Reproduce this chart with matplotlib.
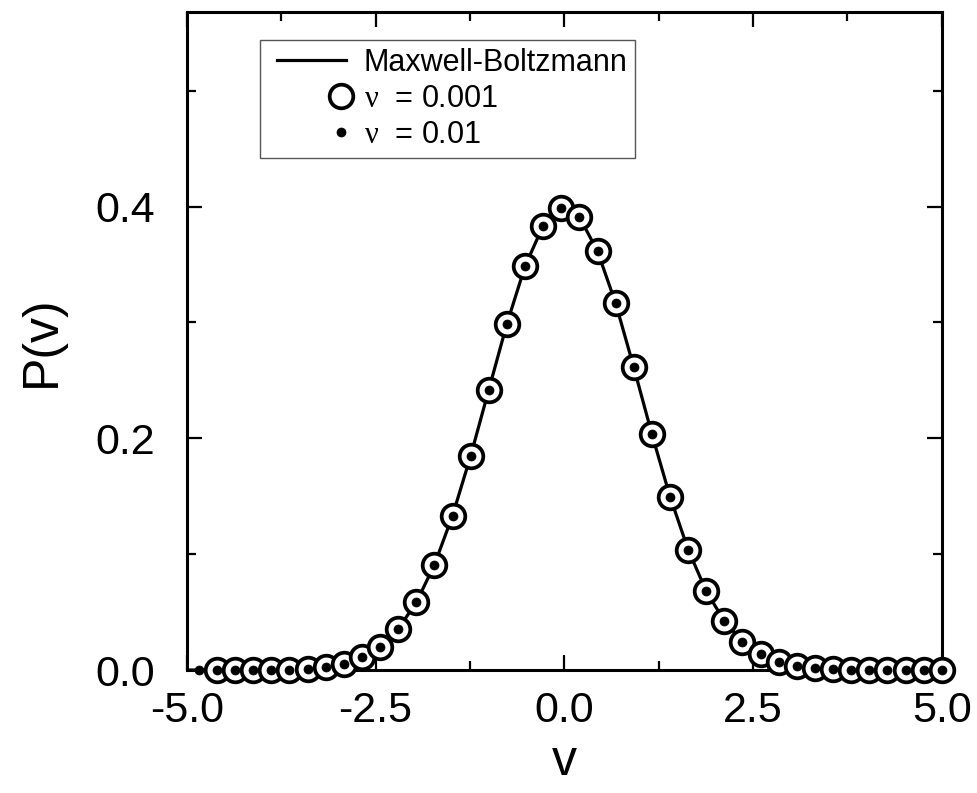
import matplotlib
matplotlib.use("Agg")
import matplotlib.pyplot as plt
from matplotlib.ticker import MultipleLocator, FormatStrFormatter
from matplotlib.legend_handler import HandlerLine2DCompound

plt.rcParams['font.family'] = ['Liberation Sans', 'DejaVu Sans']
plt.rcParams['mathtext.fontset'] = 'custom'
plt.rcParams['mathtext.rm'] = 'Liberation Serif'

# Maxwell-Boltzmann reference curve
v_theory = [-5.00, -4.84, -4.60, -4.36, -4.12, -3.88, -3.64, -3.40, -3.16, -2.92,
            -2.68, -2.44, -2.20, -1.96, -1.72, -1.48, -1.24, -1.00, -0.76, -0.52,
            -0.28, -0.04, 0.20, 0.44, 0.68, 0.92, 1.16, 1.40, 1.64, 1.88,
            2.12, 2.36, 2.60, 2.84, 3.08, 3.32, 3.56, 3.80, 4.04, 4.28,
            4.52, 4.76, 5.00]
p_theory = [0.0000, 0.0000, 0.0000, 0.0000, 0.0001, 0.0002, 0.0005, 0.0012, 0.0027, 0.0056,
            0.0110, 0.0203, 0.0355, 0.0584, 0.0909, 0.1334, 0.1849, 0.2420, 0.2989, 0.3485,
            0.3836, 0.3986, 0.3910, 0.3614, 0.3166, 0.2613, 0.2036, 0.1497, 0.1040, 0.0681,
            0.0422, 0.0246, 0.0136, 0.0071, 0.0035, 0.0016, 0.0007, 0.0003, 0.0001, 0.0000,
            0.0000, 0.0000, 0.0000]

# simulation, nu = 0.001 (open circles)
v_a = [-4.60, -4.36, -4.12, -3.88, -3.64, -3.40, -3.16, -2.92, -2.68, -2.44,
       -2.20, -1.96, -1.72, -1.48, -1.24, -1.00, -0.76, -0.52, -0.28, -0.04,
       0.20, 0.44, 0.68, 0.92, 1.16, 1.40, 1.64, 1.88, 2.12, 2.36,
       2.60, 2.84, 3.08, 3.32, 3.56, 3.80, 4.04, 4.28, 4.52, 4.76, 5.00]
p_a = [0.0000, 0.0000, 0.0001, 0.0002, 0.0005, 0.0012, 0.0027, 0.0056, 0.0110, 0.0203,
       0.0355, 0.0584, 0.0909, 0.1334, 0.1849, 0.2420, 0.2989, 0.3485, 0.3836, 0.3986,
       0.3910, 0.3614, 0.3166, 0.2613, 0.2036, 0.1497, 0.1040, 0.0681, 0.0422, 0.0246,
       0.0136, 0.0071, 0.0035, 0.0016, 0.0007, 0.0003, 0.0001, 0.0000, 0.0000, 0.0000, 0.0000]

# simulation, nu = 0.01 (small dots)
v_b = [-4.84, -4.60, -4.36, -4.12, -3.88, -3.64, -3.40, -3.16, -2.92, -2.68,
       -2.44, -2.20, -1.96, -1.72, -1.48, -1.24, -1.00, -0.76, -0.52, -0.28,
       -0.04, 0.20, 0.44, 0.68, 0.92, 1.16, 1.40, 1.64, 1.88, 2.12,
       2.36, 2.60, 2.84, 3.08, 3.32, 3.56, 3.80, 4.04, 4.28, 4.52, 4.76, 5.00]
p_b = [0.0000, 0.0000, 0.0000, 0.0001, 0.0002, 0.0005, 0.0012, 0.0027, 0.0056, 0.0110,
       0.0203, 0.0355, 0.0584, 0.0909, 0.1334, 0.1849, 0.2420, 0.2989, 0.3485, 0.3836,
       0.3986, 0.3910, 0.3614, 0.3166, 0.2613, 0.2036, 0.1497, 0.1040, 0.0681, 0.0422,
       0.0246, 0.0136, 0.0071, 0.0035, 0.0016, 0.0007, 0.0003, 0.0001, 0.0000, 0.0000, 0.0000, 0.0000]


class RightMarkerHandler(HandlerLine2DCompound):
    # line starts a bit in from the left, marker sits at the right end
    def get_xdata(self, legend, xdescent, ydescent, width, height, fontsize):
        xdata = [-xdescent + 7, -xdescent + width]
        return xdata, [-xdescent + width - 3]


fig = plt.figure(figsize=(9.78, 7.93), dpi=100)
ax = fig.add_axes([0.191, 0.155, 0.772, 0.830])

lt, = ax.plot(v_theory, p_theory, '-', color='black', lw=2.3, label='Maxwell-Boltzmann', zorder=2)
la, = ax.plot(v_a, p_a, 'o', ms=17, mfc='white', mec='black', mew=2.7,
              label=r'$\mathrm{ν}$  = 0.001', zorder=3, clip_on=False)
lb, = ax.plot(v_b, p_b, 'o', ms=6.5, mfc='black', mec='black', mew=0.5,
              label=r'$\mathrm{ν}$  = 0.01', zorder=4, clip_on=False)

ax.set_xlim(-5.0, 5.0)
ax.set_ylim(0.0, 0.568)
ax.xaxis.set_major_locator(MultipleLocator(2.5))
ax.xaxis.set_minor_locator(MultipleLocator(1.25))
ax.yaxis.set_major_locator(MultipleLocator(0.2))
ax.yaxis.set_minor_locator(MultipleLocator(0.1))
ax.xaxis.set_major_formatter(FormatStrFormatter('%.1f'))
ax.yaxis.set_major_formatter(FormatStrFormatter('%.1f'))

ax.tick_params(which='both', direction='in', top=True, right=True, width=1.6,
               labelsize=31)
ax.tick_params(which='major', length=11)
ax.tick_params(which='minor', length=6.5)
ax.tick_params(axis='x', which='major', pad=15)
ax.tick_params(axis='y', which='major', pad=23)
for s in ax.spines.values():
    s.set_linewidth(2.2)

ax.set_xlabel('v', fontsize=36, labelpad=6)
ax.set_ylabel('P(v)', fontsize=36, labelpad=22)

hmap = {h: RightMarkerHandler() for h in (lt, la, lb)}
leg = ax.legend(loc='upper left', bbox_to_anchor=(0.097, 0.957), borderaxespad=0,
                fontsize=22, numpoints=1, handlelength=2.55, handletextpad=0.6,
                borderpad=0.25, labelspacing=0.2, fancybox=False,
                framealpha=1, edgecolor='#555555', handler_map=hmap)
leg.get_frame().set_linewidth(1.0)

plt.savefig('out.png', dpi=100)
